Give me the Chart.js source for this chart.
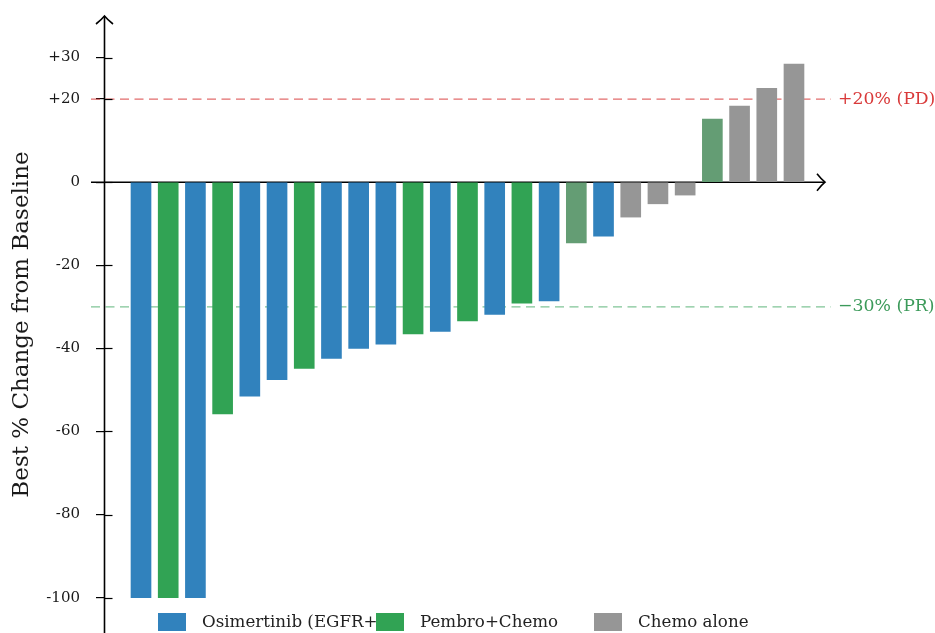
<!DOCTYPE html>
<html>
<head>
<meta charset="utf-8">
<title>Best % Change from Baseline</title>
<script src="https://cdn.jsdelivr.net/npm/chart.js@4/dist/chart.umd.min.js"></script>
<style>
  html, body { margin: 0; padding: 0; background: #ffffff; }
  #wrap { width: 935px; height: 633px; }
  canvas { display: block; }
</style>
</head>
<body>
<div id="wrap"><canvas id="waterfall" width="935" height="633"></canvas></div>
<script>
// Patients, sorted from deepest response to largest growth
const patients = [1, 2, 3, 4, 5, 6, 7, 8, 9, 10, 11, 12, 13, 14, 15, 16, 17, 18, 19, 20, 21, 22, 23, 24, 25];
const bestChange = [-100, -100, -100, -55.8, -51.5, -47.5, -44.8, -42.4, -40.0, -39.0,
                    -36.5, -35.9, -33.4, -31.8, -29.1, -28.6, -14.6, -13.0, -8.4, -5.2,
                    -3.1, 15.2, 18.3, 22.6, 28.4];
const arm = ['osi', 'pem', 'osi', 'pem', 'osi', 'osi', 'pem', 'osi', 'osi', 'osi',
             'pem', 'osi', 'pem', 'osi', 'pem', 'osi', 'pem', 'osi', 'chemo', 'chemo',
             'chemo', 'pem', 'chemo', 'chemo', 'chemo'];
const dimmed = [false, false, false, false, false, false, false, false, false, false,
                false, false, false, false, false, false, true, false, false, false,
                false, true, false, false, false];

const armKeys = ['osi', 'pem', 'chemo'];
const armLabels = ['Osimertinib (EGFR+)', 'Pembro+Chemo', 'Chemo alone'];

// Y axis
const yTicks = [30, 20, 0, -20, -40, -60, -80, -100];
const yMin = -108.5;
const yMax = 40;

// RECIST thresholds
const thresholdValues = [20, -30];
const thresholdLabels = ['+20% (PD)', '\u221230% (PR)'];

// Styling
const armColors = { osi: '#3182bd', pem: '#31a354', chemo: '#969696' };
const dimColor = '#649d74';
const thresholdLineColors = ['rgba(214, 50, 50, 0.72)', 'rgba(60, 165, 95, 0.66)'];
const thresholdTextColors = ['#d93a3a', '#3c9a5a'];
const SERIF = '"DejaVu Serif", "Liberation Serif", serif';

const datasets = armKeys.map((key, k) => {
  const idx = patients.map((p, i) => i).filter(i => arm[i] === key);
  return {
    label: armLabels[k],
    data: idx.map(i => ({ x: i, y: bestChange[i] })),
    backgroundColor: idx.map(i => dimmed[i] ? dimColor : armColors[key]),
    borderWidth: 0,
    barThickness: 20,
    grouped: false
  };
});

function arrowHead(ctx, tx, ty, dx, dy, len, half) {
  // open, slightly curved arrow tip pointing along (dx, dy)
  const px = -dy, py = dx;
  const bx = tx - dx * len, by = ty - dy * len;
  ctx.beginPath();
  ctx.moveTo(bx + px * half, by + py * half);
  ctx.quadraticCurveTo(tx - dx * len * 0.45 + px * half * 0.35, ty - dy * len * 0.45 + py * half * 0.35, tx, ty);
  ctx.quadraticCurveTo(tx - dx * len * 0.45 - px * half * 0.35, ty - dy * len * 0.45 - py * half * 0.35, bx - px * half, by - py * half);
  ctx.stroke();
}

const axesPlugin = {
  id: 'waterfallAxes',
  beforeDatasetsDraw(chart) {
    const { ctx, chartArea, scales } = chart;
    const xs = scales.x, ys = scales.y;
    const axisX = chartArea.left + 0.5;
    const y0 = ys.getPixelForValue(0);
    ctx.save();

    // threshold lines sit behind the bars
    thresholdValues.forEach((v, i) => {
      const yy = ys.getPixelForValue(v);
      ctx.strokeStyle = thresholdLineColors[i];
      ctx.lineWidth = 1.3;
      ctx.setLineDash([9, 5.5]);
      ctx.beginPath();
      ctx.moveTo(axisX - 13.5, yy);
      ctx.lineTo(chartArea.right + 6, yy);
      ctx.stroke();
    });
    ctx.setLineDash([]);

    ctx.strokeStyle = '#000';
    ctx.lineWidth = 1.6;
    // horizontal zero axis
    ctx.beginPath();
    ctx.moveTo(axisX - 13.5, y0);
    ctx.lineTo(xs.right, y0);
    ctx.stroke();
    arrowHead(ctx, xs.right, y0, 1, 0, 8, 8.5);

    // vertical axis
    ctx.beginPath();
    ctx.moveTo(axisX, chartArea.bottom + 2);
    ctx.lineTo(axisX, chartArea.top);
    ctx.stroke();
    arrowHead(ctx, axisX, chartArea.top, 0, -1, 8, 8.5);

    // tick marks continue to the right of the axis
    ctx.lineWidth = 1.2;
    yTicks.forEach(v => {
      const yy = Math.round(ys.getPixelForValue(v)) + 0.5;
      ctx.beginPath();
      ctx.moveTo(axisX, yy);
      ctx.lineTo(axisX + 8, yy);
      ctx.stroke();
    });
    ctx.restore();
  },
  afterDraw(chart) {
    const { ctx, chartArea, scales } = chart;
    const ys = scales.y;
    ctx.save();
    ctx.textBaseline = 'middle';
    ctx.textAlign = 'left';
    ctx.font = '17.3px ' + SERIF;
    thresholdValues.forEach((v, i) => {
      ctx.fillStyle = thresholdTextColors[i];
      ctx.fillText(thresholdLabels[i], chartArea.right + 13, ys.getPixelForValue(v));
    });

    // legend along the bottom edge, fixed spacing per entry
    const startX = 158, step = 218, boxTop = 613, boxW = 28, boxH = 18;
    chart.data.datasets.forEach((ds, k) => {
      const lx = startX + k * step;
      ctx.fillStyle = armColors[armKeys[k]];
      ctx.fillRect(lx, boxTop, boxW, boxH);
      ctx.fillStyle = '#222';
      ctx.font = '16.7px ' + SERIF;
      ctx.fillText(ds.label, lx + 44, boxTop + boxH / 2 + 1);
    });
    ctx.restore();
  }
};

new Chart(document.getElementById('waterfall'), {
  type: 'bar',
  data: { datasets },
  plugins: [axesPlugin],
  options: {
    responsive: false,
    animation: false,
    devicePixelRatio: 1,
    layout: { padding: { left: 0, right: 110, top: 16, bottom: 0 } },
    plugins: { legend: { display: false }, tooltip: { enabled: false } },
    scales: {
      x: {
        type: 'linear',
        min: -1.36,
        max: 25.14,
        offset: false,
        display: false
      },
      y: {
        min: yMin,
        max: yMax,
        position: 'left',
        afterBuildTicks(scale) {
          scale.ticks = yTicks.map(v => ({ value: v }));
        },
        afterFit(scale) {
          scale.width = 104;
          scale.paddingTop = 0;
          scale.paddingBottom = 0;
        },
        border: { display: false },
        grid: {
          drawOnChartArea: false,
          drawTicks: true,
          tickLength: 8,
          color: '#000',
          lineWidth: 1.2
        },
        ticks: {
          padding: 16,
          color: '#1a1a1a',
          font: { family: SERIF, size: 15 },
          callback: v => (v > 0 ? '+' + v : String(v))
        },
        title: {
          display: true,
          text: 'Best % Change from Baseline',
          color: '#1a1a1a',
          font: { family: SERIF, size: 23 },
          padding: { top: 8, bottom: 0 }
        }
      }
    }
  }
});
</script>
</body>
</html>
